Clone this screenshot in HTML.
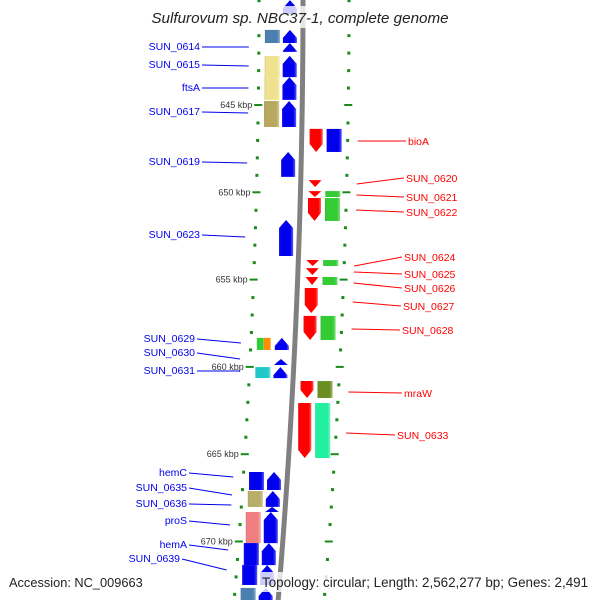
<!DOCTYPE html>
<html><head><meta charset="utf-8"><style>
body{margin:0;background:#fff}
svg{display:block;font-family:"Liberation Sans","DejaVu Sans",sans-serif}
</style></head><body>
<svg id="map" width="600" height="600" viewBox="0 0 600 600">
<defs>
<linearGradient id="shade" x1="0" x2="1" y1="0" y2="0">
<stop offset="0" stop-color="#000" stop-opacity="0.12"/>
<stop offset="0.15" stop-color="#fff" stop-opacity="0"/>
<stop offset="0.8" stop-color="#fff" stop-opacity="0"/>
<stop offset="1" stop-color="#fff" stop-opacity="0.35"/>
</linearGradient>
</defs>
<g id="layer"></g>
</svg>
<script>
// genes: forward (left, up arrows) and reverse (right, down arrows) — kbp
const fwdStart=[638.99,640.70,641.45,642.19,643.40,644.77,647.69,651.59,658.34,659.55,660.01,666.02,667.11,668.02,668.31,670.09,671.35,672.66];
const fwdEnd=[639.79,641.45,641.96,643.40,644.71,646.26,649.12,653.65,659.03,659.89,660.64,667.05,668.02,668.31,670.09,671.35,672.49,673.35];
const fwdCog=[null,"#4a7fb0",null,"#efe28f","#efe28f","#b8a860",null,null,"mix",null,"#20c8c8","#0000ee","#b8ae6a",null,"#f08080","#0000ee","#0000ee","#4a7fb0"];
const revStart=[646.37,649.30,649.93,650.33,653.88,654.34,654.85,655.48,657.08,660.81,662.07];
const revEnd=[647.69,649.70,650.27,651.64,654.22,654.74,655.31,656.91,658.46,661.78,665.22];
const revCog=["#0000ee",null,"#33cc33","#33cc33","#33cc33",null,"#33cc33",null,"#33cc33","#6b8e23","#20f0a0"];
const leftLabels=["SUN_0614","SUN_0615","ftsA","SUN_0617","SUN_0619","SUN_0623","SUN_0629","SUN_0630","SUN_0631","hemC","SUN_0635","SUN_0636","proS","hemA","SUN_0639"];
const leftLabelY=[46,64,87,111,161,234,338,352,370,472,487,503,520,544,558];
const leftLabelRight=[200,200,200,200,200,200,195,195,195,187,187,187,187,187,180];
const leftTargetY=[47,66,88,113,163,237,343,359,371,477,495,505,525,550,570];
const rightLabels=["bioA","SUN_0620","SUN_0621","SUN_0622","SUN_0624","SUN_0625","SUN_0626","SUN_0627","SUN_0628","mraW","SUN_0633"];
const rightLabelY=[141,178,197,212,257,274,288,306,330,393,435];
const rightLabelX=[408,406,406,406,404,404,404,403,402,404,397];
const rightSrcY=[141,184,195,210,266,272,283,302,329,392,433];
const tickKbp=[645,650,655,660,665,670];

const NS="http://www.w3.org/2000/svg";
const L=document.getElementById('layer');
const y=k=>105+(k-645)*17.46;
const bx=yy=>303-6.9e-5*yy*yy;
function el(t,a,p){const e=document.createElementNS(NS,t);for(const k in a)e.setAttribute(k,a[k]);(p||L).appendChild(e);return e;}

const bbp=[];for(let yy=-5;yy<=605;yy+=5)bbp.push((bx(yy))+','+yy);
const bbl=el('polyline',{points:bbp.join(' '),fill:'none',stroke:'#808080','stroke-width':5});



for(let k=639;k<=673;k++){
  const yy=y(k),major=tickKbp.includes(k);
  [-44,46].forEach(off=>{
    const cx=bx(yy)+off;
    const d=el('rect',{x:major?cx-4:cx-1.5,y:yy-1,width:major?8:3,height:major?2:3,fill:'#1a8a1a'});
    
    
  });
  if(major){
    const t=el('text',{x:bx(yy)-50,y:yy+3,'text-anchor':'end','font-size':9,fill:'#333'});
    t.textContent=k+' kbp';
    
    
  }
}
function arrow(x0,x1,y0,y1,up,color){
  const h=Math.min(8,y1-y0);let pts;
  const xm=(x0+x1)/2;
  if(up)pts=[[xm,y0],[x1,y0+h],[x1,y1],[x0,y1],[x0,y0+h]];
  else pts=[[x0,y0],[x1,y0],[x1,y1-h],[xm,y1],[x0,y1-h]];
  const s=pts.map(p=>p.join(',')).join(' ');
  const g=el('g',{});
  el('polygon',{points:s,fill:color},g);
  el('polygon',{points:s,fill:'url(#shade)'},g);
  return g;
}
function box(x0,x1,y0,y1,color,g){
  el('rect',{x:x0,y:y0,width:x1-x0,height:y1-y0,fill:color},g);
  el('rect',{x:x0,y:y0,width:x1-x0,height:y1-y0,fill:'url(#shade)'},g);
}
fwdStart.forEach((s,i)=>{
  const y0=y(s),y1=y(fwdEnd[i]),c=bx((y0+y1)/2);
  const a=arrow(c-20,c-6,y0,y1,true,'#0000ee');
  
  
  if(fwdCog[i]){
    const g=el('g',{});
    
    
    if(fwdCog[i]==='mix'){box(c-38,c-31,y0,y1,'#33cc33',g);box(c-31,c-24,y0,y1,'#ff8c00',g);}
    else box(c-38,c-23,y0,y1,fwdCog[i],g);
  }
});
revStart.forEach((s,i)=>{
  const y0=y(s),y1=y(revEnd[i]),c=bx((y0+y1)/2);
  const a=arrow(c+8,c+21,y0,y1,false,'#ff0000');
  
  
  if(revCog[i]){
    const g=el('g',{});
    
    
    box(c+25,c+40,y0,y1,revCog[i],g);
  }
});
leftLabels.forEach((n,i)=>{
  const ty=leftTargetY[i];
  const ln=el('line',{x1:leftLabelRight[i]+2,y1:leftLabelY[i]+1,x2:bx(ty)-54,y2:ty,stroke:'#0000ee','stroke-width':1});
  
  
  const t=el('text',{x:leftLabelRight[i],y:leftLabelY[i]+4,'text-anchor':'end','font-size':10.5,fill:'#0000ee'});
  t.textContent=n;
  
  
});
rightLabels.forEach((n,i)=>{
  const sy=rightSrcY[i];
  const ln=el('line',{x1:bx(sy)+56,y1:sy,x2:rightLabelX[i]-2,y2:rightLabelY[i],stroke:'#ff0000','stroke-width':1});
  
  
  const t=el('text',{x:rightLabelX[i],y:rightLabelY[i]+4,'font-size':10.5,fill:'#ff0000'});
  t.textContent=n;
  
  
});
function banner(x,yy,w,h,text,anchor,size,italic,name){
  const r=el('rect',{x:x,y:yy,width:w,height:h,fill:'#fff','fill-opacity':0.8});
  
  
  const t=el('text',{x:anchor==='middle'?x+w/2:x+2,y:yy+h-5,'text-anchor':anchor,'font-size':size,fill:'#222','font-style':italic?'italic':'normal'});
  t.textContent=text;
  
  
}
banner(145,6,310,22,'Sulfurovum sp. NBC37-1, complete genome','middle',15.2,true,'chart-title');
banner(7,572,140,20,'Accession: NC_009663','start',12.8,false,'accession-text');
banner(260,572,338,20,'Topology: circular; Length: 2,562,277 bp; Genes: 2,491','start',13.4,false,'topology-text');
</script>
</body></html>
